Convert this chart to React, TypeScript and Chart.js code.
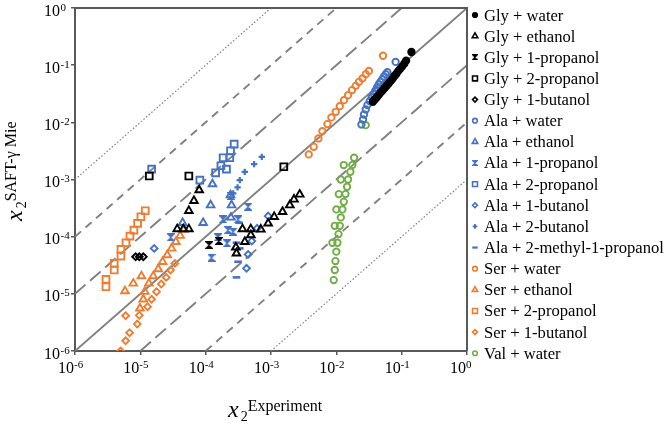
import React, { useEffect, useRef } from 'react';
import { Chart, registerables } from 'chart.js';
import { drawPoint } from 'chart.js/helpers';

Chart.register(...registerables);

type P = [number, number];

// ---- data (x2 experiment, x2 SAFT-γ Mie) ----
const glyWater: P[] = [
  [3.63e-2, 2.29e-2], [3.89e-2, 2.51e-2], [4.17e-2, 2.75e-2], [4.47e-2, 3.02e-2], [4.79e-2, 3.35e-2],
  [5.13e-2, 3.63e-2], [5.5e-2, 3.98e-2], [5.89e-2, 4.37e-2], [6.31e-2, 4.79e-2], [6.76e-2, 5.25e-2],
  [7.24e-2, 5.75e-2], [7.76e-2, 6.46e-2], [8.32e-2, 7.08e-2], [8.91e-2, 7.94e-2], [9.55e-2, 8.71e-2],
  [1.02e-1, 9.55e-2], [1.1e-1, 1.07e-1], [1.17e-1, 1.2e-1], [1.41e-1, 1.7e-1],
];
const glyEthanol: P[] = [
  [3.67e-5, 1.36e-4], [4.54e-5, 1.36e-4], [5.53e-5, 1.36e-4], [5.53e-5, 2.84e-4], [6.61e-5, 4.25e-4],
  [7.96e-5, 6.53e-4], [2.96e-4, 5.11e-5], [2.9e-4, 6.5e-5], [3.97e-4, 8.15e-5], [4.91e-4, 1.07e-4],
  [3.66e-4, 1.36e-4], [4.91e-4, 1.36e-4], [6.98e-4, 1.34e-4], [9.04e-4, 1.71e-4], [1.12e-3, 2.23e-4],
  [1.5e-3, 2.73e-4], [1.94e-3, 3.56e-4], [2.25e-3, 4.49e-4], [2.75e-3, 5.48e-4],
];
const glyPropanol1: P[] = [[1.13e-4, 7.13e-5], [1.6e-4, 8.4e-5]];
const glyPropanol2: P[] = [[1.37e-5, 1.15e-3], [5.53e-5, 1.15e-3], [1.57e-3, 1.67e-3]];
const glyButanol1: P[] = [[8.47e-6, 4.46e-5], [9.64e-6, 4.46e-5], [1.11e-5, 4.46e-5]];
const alaWater: P[] = [
  [2.42e-2, 9.18e-3], [2.56e-2, 1.12e-2], [2.65e-2, 1.37e-2], [2.82e-2, 1.68e-2], [2.99e-2, 2.0e-2],
  [3.24e-2, 2.35e-2], [3.48e-2, 2.72e-2], [3.73e-2, 3.11e-2], [3.95e-2, 3.56e-2], [4.2e-2, 4.07e-2],
  [4.45e-2, 4.59e-2], [4.72e-2, 5.11e-2], [5.07e-2, 5.69e-2], [5.37e-2, 6.34e-2], [5.69e-2, 6.97e-2],
  [6.04e-2, 7.55e-2], [8.09e-2, 1.14e-1],
];
const alaEthanol: P[] = [
  [1.27e-4, 8.32e-4], [1.19e-4, 3.56e-4], [2.49e-4, 3.56e-4], [9.16e-5, 1.75e-4], [4.44e-5, 1.75e-4],
  [2.43e-4, 2.17e-4], [2.4e-4, 5.33e-4],
];
const alaPropanol1: P[] = [
  [2.43e-4, 5.13e-4], [4.47e-4, 3.33e-4], [1.85e-4, 2.0e-4], [3.14e-4, 2.0e-4], [1.55e-4, 9.73e-5],
  [2.13e-4, 7.64e-5], [1.23e-4, 4.28e-5], [2.64e-4, 1.22e-4], [2.21e-4, 1.3e-4], [2.94e-5, 9.73e-5],
];
const alaPropanol2: P[] = [
  [1.49e-5, 1.52e-3], [8.15e-5, 9.77e-4], [1.42e-4, 1.31e-3], [1.71e-4, 1.74e-3], [2.08e-4, 1.52e-3],
  [1.85e-4, 2.4e-3], [2.34e-4, 2.4e-3], [2.4e-4, 3.18e-3], [2.73e-4, 4.16e-3],
];
const alaButanol1: P[] = [
  [9.04e-4, 2.29e-4], [6.12e-4, 1.4e-4], [5.08e-4, 8.38e-5], [4.47e-4, 4.9e-5], [4.22e-4, 2.79e-5],
  [1.63e-5, 6.24e-5],
];
const alaButanol2: P[] = [
  [7.23e-4, 2.49e-3], [5.51e-4, 1.86e-3], [3.97e-4, 1.36e-3], [3.33e-4, 9.77e-4], [3.08e-4, 7.28e-4],
  [2.64e-4, 5.71e-4],
];
const alaMethylPropanol: P[] = [
  [3.25e-4, 1.75e-4], [2.96e-4, 7.83e-5], [3.33e-4, 6.24e-5], [3.14e-4, 3.64e-5], [2.96e-4, 1.94e-5],
];
const serWater: P[] = [
  [3.78e-3, 2.75e-3], [4.51e-3, 3.73e-3], [5.32e-3, 5.22e-3], [6.12e-3, 7.01e-3], [7.31e-3, 9.31e-3],
  [8.41e-3, 1.22e-2], [9.79e-3, 1.53e-2], [1.13e-2, 1.92e-2], [1.31e-2, 2.44e-2], [1.51e-2, 2.99e-2],
  [1.74e-2, 3.66e-2], [1.98e-2, 4.35e-2], [2.22e-2, 5.11e-2], [2.51e-2, 5.86e-2], [2.82e-2, 6.97e-2],
  [3.16e-2, 7.94e-2], [5.18e-2, 1.46e-1],
];
const serEthanol: P[] = [
  [5.82e-6, 1.12e-5], [7.8e-6, 1.52e-5], [1.04e-5, 2.05e-5], [9.86e-6, 5.57e-6], [1.11e-5, 8.02e-6],
  [1.17e-5, 1.09e-5], [1.35e-5, 1.52e-5], [1.58e-5, 2.05e-5], [1.88e-5, 2.72e-5], [2.19e-5, 3.64e-5],
  [2.58e-5, 4.76e-5], [3.01e-5, 6.24e-5], [3.5e-5, 8.15e-5], [4.07e-5, 1.04e-4], [4.69e-5, 1.34e-4],
];
const serPropanol2: P[] = [
  [2.98e-6, 1.33e-5], [2.98e-6, 1.79e-5], [3.98e-6, 2.61e-5], [3.98e-6, 3.41e-5], [5.05e-6, 4.58e-5],
  [5.05e-6, 6.0e-5], [6.03e-6, 7.83e-5], [6.93e-6, 1.02e-4], [7.98e-6, 1.3e-4], [9.08e-6, 1.71e-4],
  [1.02e-5, 2.23e-4], [1.19e-5, 2.84e-4],
];
const serButanol1: P[] = [
  [4.99e-6, 1.0e-6], [5.96e-6, 1.51e-6], [6.85e-6, 2.09e-6], [8.97e-6, 2.96e-6], [5.96e-6, 4.14e-6],
  [9.64e-6, 4.21e-6], [1.29e-5, 5.96e-6], [1.49e-5, 8.02e-6], [1.77e-5, 1.09e-5], [2.09e-5, 1.48e-5],
  [2.49e-5, 1.94e-5], [2.9e-5, 2.61e-5], [3.38e-5, 3.41e-5],
];
const valWater: P[] = [
  [2.82e-2, 8.93e-3], [1.87e-2, 2.4e-3], [1.76e-2, 1.79e-3], [1.3e-2, 1.79e-3], [1.64e-2, 1.36e-3],
  [1.17e-2, 1.0e-3], [1.51e-2, 1.0e-3], [1.46e-2, 7.45e-4], [1.09e-2, 5.56e-4], [1.38e-2, 5.56e-4],
  [1.3e-2, 4.07e-4], [1.0e-2, 3.0e-4], [1.24e-2, 3.0e-4], [1.17e-2, 2.17e-4], [9.46e-3, 1.55e-4],
  [1.13e-2, 1.55e-4], [1.08e-2, 1.11e-4], [8.71e-3, 7.83e-5], [1.04e-2, 7.83e-5], [1.0e-2, 5.46e-5],
  [9.68e-3, 3.74e-5], [9.46e-3, 2.61e-5], [9.12e-3, 1.74e-5],
];

const seriesNames = [
  'Gly + water', 'Gly + ethanol', 'Gly + 1-propanol', 'Gly + 2-propanol', 'Gly + 1-butanol',
  'Ala + water', 'Ala + ethanol', 'Ala + 1-propanol', 'Ala + 2-propanol', 'Ala + 1-butanol',
  'Ala + 2-butanol', 'Ala + 2-methyl-1-propanol', 'Ser + water', 'Ser + ethanol', 'Ser + 2-propanol',
  'Ser + 1-butanol', 'Val + water',
];
const seriesData = [
  glyWater, glyEthanol, glyPropanol1, glyPropanol2, glyButanol1,
  alaWater, alaEthanol, alaPropanol1, alaPropanol2, alaButanol1, alaButanol2, alaMethylPropanol,
  serWater, serEthanol, serPropanol2, serButanol1, valWater,
];
const xTickExponents = [-6, -5, -4, -3, -2, -1, 0];
const yTickExponents = [-6, -5, -4, -3, -2, -1, 0];
const refFactors = [1, 10, 0.1, 100, 0.01, 1000, 0.001];

// ---- styles ----
const BLACK = '#000000';
const BLUE = '#4472C4';
const ORANGE = '#ED7D31';
const GREEN = '#70AD47';
const AXIS = '#595959';
const REF = '#808080';
const SERIF = '"Liberation Serif", "Times New Roman", serif';

type Mk = { color: string; style: string; r: number; fill?: boolean; bw?: number };
const markers: Mk[] = [
  { color: BLACK, style: 'circle', r: 3.2, fill: true },
  { color: BLACK, style: 'triangle', r: 4.4 },
  { color: BLACK, style: 'hourglass', r: 3.5 },
  { color: BLACK, style: 'rect', r: 4.8 },
  { color: BLACK, style: 'rectRot', r: 3.4 },
  { color: BLUE, style: 'circle', r: 3.2 },
  { color: BLUE, style: 'triangle', r: 4.4 },
  { color: BLUE, style: 'hourglass', r: 3.5 },
  { color: BLUE, style: 'rect', r: 4.8 },
  { color: BLUE, style: 'rectRot', r: 3.4 },
  { color: BLUE, style: 'cross', r: 3.2, bw: 2.2 },
  { color: BLUE, style: 'line', r: 3.8, bw: 2.6 },
  { color: ORANGE, style: 'circle', r: 3.2 },
  { color: ORANGE, style: 'triangle', r: 4.4 },
  { color: ORANGE, style: 'rect', r: 4.8 },
  { color: ORANGE, style: 'rectRot', r: 3.4 },
  { color: GREEN, style: 'circle', r: 3.2 },
];

function hourglass(color: string, s: number) {
  const c = document.createElement('canvas');
  c.width = s;
  c.height = s;
  const g = c.getContext('2d')!;
  g.fillStyle = color;
  g.strokeStyle = color;
  g.lineWidth = 1.2;
  g.beginPath();
  g.moveTo(0.6, 0.6);
  g.lineTo(s - 0.6, 0.6);
  g.lineTo(0.6, s - 0.6);
  g.lineTo(s - 0.6, s - 0.6);
  g.closePath();
  g.fill();
  g.stroke();
  return c;
}

export default function App() {
  const ref = useRef<HTMLCanvasElement | null>(null);

  useEffect(() => {
    if (!ref.current) return;
    const styleOf = (m: Mk, legend: boolean): any =>
      m.style === 'hourglass' ? hourglass(m.color, legend ? 6 : 8) : m.style;

    const scatterSets = seriesData.map((d, i) => {
      const m = markers[i];
      return {
        label: seriesNames[i],
        data: d.map(([x, y]) => ({ x, y })),
        pointStyle: styleOf(m, false),
        pointRadius: m.r,
        pointBorderWidth: m.bw ?? 1.9,
        pointBorderColor: m.color,
        pointBackgroundColor: m.fill ? m.color : 'rgba(0,0,0,0)',
        showLine: false,
        order: 0,
      };
    });

    const xmin = 1e-6, xmax = 1;
    const refSets = refFactors.map((k) => {
      const x0 = Math.max(xmin, xmin / k);
      const x1 = Math.min(xmax, xmax / k);
      const lvl = Math.round(Math.abs(Math.log10(k)));
      return {
        label: 'ref' + k,
        data: [{ x: x0, y: x0 * k }, { x: x1, y: x1 * k }],
        showLine: true,
        pointRadius: 0,
        borderColor: REF,
        borderWidth: lvl === 3 ? 1.2 : 1.9,
        borderDash: lvl === 0 ? [] : lvl === 1 ? [14, 6] : lvl === 2 ? [8, 6] : [1.5, 2],
        order: 1,
      };
    });

    const legendStyles = markers.map((m) => styleOf(m, true));

    const decor = {
      id: 'decor',
      afterDraw(chart: any) {
        const { ctx, chartArea: a, scales } = chart;
        const xs = scales.x;
        const ys = scales.y;
        ctx.save();
        // top & right frame
        ctx.strokeStyle = AXIS;
        ctx.lineWidth = 2;
        ctx.beginPath();
        ctx.moveTo(a.left, a.top);
        ctx.lineTo(a.right, a.top);
        ctx.lineTo(a.right, a.bottom);
        ctx.stroke();

        ctx.fillStyle = BLACK;
        // x tick labels
        xTickExponents.forEach((e) => {
          const px = xs.getPixelForValue(Math.pow(10, e));
          ctx.font = `16px ${SERIF}`;
          ctx.textAlign = 'right';
          ctx.textBaseline = 'alphabetic';
          ctx.fillText('10', px - 1, a.bottom + 22);
          ctx.font = `11px ${SERIF}`;
          ctx.textAlign = 'left';
          ctx.fillText(String(e), px - 1, a.bottom + 16.5);
        });
        // y tick labels
        yTickExponents.forEach((e) => {
          const py = ys.getPixelForValue(Math.pow(10, e));
          ctx.font = `16px ${SERIF}`;
          ctx.textAlign = 'right';
          ctx.fillText('10', 60, py + 7.5);
          ctx.font = `11px ${SERIF}`;
          ctx.textAlign = 'left';
          ctx.fillText(String(e), 60.5, py + 2.5);
        });

        // axis titles
        const drawTitle = (sup: string) => {
          ctx.textAlign = 'left';
          ctx.font = `italic 24px ${SERIF}`;
          ctx.fillText('x', 0, 0);
          const wx = ctx.measureText('x').width;
          ctx.font = `14px ${SERIF}`;
          ctx.fillText('2', wx + 2, 4);
          const w2 = ctx.measureText('2').width;
          ctx.font = `16px ${SERIF}`;
          ctx.fillText(sup, wx + 2 + w2, -6);
        };
        ctx.save();
        ctx.translate(228, 417);
        drawTitle('Experiment');
        ctx.restore();
        ctx.save();
        ctx.translate(22, 221);
        ctx.rotate(-Math.PI / 2);
        drawTitle('SAFT-\u03B3 Mie');
        ctx.restore();

        // legend
        const lx = 475;
        seriesNames.forEach((name, i) => {
          const ly = 15 + i * 21.14;
          const m = markers[i];
          ctx.fillStyle = m.fill ? m.color : 'rgba(0,0,0,0)';
          ctx.strokeStyle = m.color;
          ctx.lineWidth = m.bw ? m.bw * 0.85 : 1.6;
          drawPoint(ctx, { pointStyle: legendStyles[i], radius: m.r * 0.72, borderWidth: ctx.lineWidth, rotation: 0 } as any, lx, ly);
          ctx.fillStyle = BLACK;
          ctx.font = `16.6px ${SERIF}`;
          ctx.textAlign = 'left';
          ctx.fillText(name, 484, ly + 5.5);
        });
        ctx.restore();
      },
    };

    const axisCommon = (exps: number[], isX: boolean): any => ({
      type: 'logarithmic',
      min: 1e-6,
      max: 1,
      position: isX ? 'bottom' : 'left',
      afterBuildTicks: (s: any) => {
        s.ticks = exps.map((e) => ({ value: Math.pow(10, e) }));
      },
      afterFit: (s: any) => {
        if (isX) s.height = 73;
        else s.width = 75;
      },
      ticks: { display: false },
      grid: { display: true, drawOnChartArea: false, drawTicks: true, tickLength: 4, color: AXIS, lineWidth: 1.5 },
      border: { display: true, color: AXIS, width: 2 },
    });

    const chart = new Chart(ref.current, {
      type: 'scatter',
      data: { datasets: [...scatterSets, ...refSets] as any },
      options: {
        animation: false,
        responsive: true,
        maintainAspectRatio: false,
        events: [],
        layout: { padding: { left: 0, top: 8, right: 199, bottom: 0 } },
        plugins: { legend: { display: false }, tooltip: { enabled: false } },
        scales: { x: axisCommon(xTickExponents, true), y: axisCommon(yTickExponents, false) },
      },
      plugins: [decor],
    });
    return () => chart.destroy();
  }, []);

  return (
    <div style={{ position: 'fixed', left: 0, top: 0, width: 666, height: 424, background: '#fff' }}>
      <canvas ref={ref} />
    </div>
  );
}
